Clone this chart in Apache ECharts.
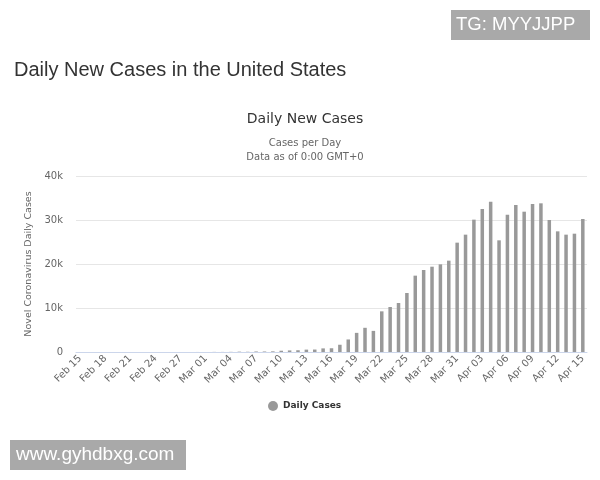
<!DOCTYPE html>
<html>
<head>
<meta charset="utf-8">
<script src="https://cdn.jsdelivr.net/npm/echarts@6/dist/echarts.min.js"></script>
<style>
html,body{margin:0;padding:0;background:#fff;}
#chart{width:600px;height:480px;}
</style>
</head>
<body>
<div id="chart"></div>
<script>
var categories = [
  "Feb 15","Feb 16","Feb 17","Feb 18","Feb 19","Feb 20","Feb 21","Feb 22","Feb 23","Feb 24","Feb 25","Feb 26","Feb 27","Feb 28","Feb 29",
  "Mar 01","Mar 02","Mar 03","Mar 04","Mar 05","Mar 06","Mar 07","Mar 08","Mar 09","Mar 10","Mar 11","Mar 12","Mar 13","Mar 14","Mar 15",
  "Mar 16","Mar 17","Mar 18","Mar 19","Mar 20","Mar 21","Mar 22","Mar 23","Mar 24","Mar 25","Mar 26","Mar 27","Mar 28","Mar 29","Mar 30","Mar 31",
  "Apr 01","Apr 02","Apr 03","Apr 04","Apr 05","Apr 06","Apr 07","Apr 08","Apr 09","Apr 10","Apr 11","Apr 12","Apr 13","Apr 14","Apr 15"
];
var dailyCases = [
  0,0,0,0,0,0,2,0,0,1,0,0,1,0,8,
  7,23,19,33,77,53,120,116,150,290,360,400,540,560,820,
  850,1650,2850,4350,5500,4800,9240,10230,11140,13410,17350,18640,19390,19920,20760,24850,
  26670,30080,32500,34170,25380,31210,33410,31890,33640,33790,30000,27420,26670,26890,30230
];
var yTicks = [0, 10000, 20000, 30000, 40000];
var seriesName = "Daily Cases";

var chart = echarts.init(document.getElementById('chart'), null, {renderer:'canvas'});
var font = "'DejaVu Sans', sans-serif";
chart.setOption({
  animation: false,
  backgroundColor: '#fff',
  title: [
    {text: 'Daily New Cases in the United States', left: 9, top: 55,
     textStyle: {fontFamily: "'Liberation Sans', Arial, sans-serif", fontSize: 20, fontWeight: 'normal', color: '#333'}}
  ],
  graphic: [
    {type: 'text', x: 305, y: 119, style: {text: 'Daily New Cases', fill: '#333', font: "14px 'DejaVu Sans', sans-serif", textAlign: 'center', textVerticalAlign: 'middle'}},
    {type: 'text', x: 305, y: 143, style: {text: 'Cases per Day', fill: '#666', font: "10px 'DejaVu Sans', sans-serif", textAlign: 'center', textVerticalAlign: 'middle'}},
    {type: 'text', x: 305, y: 157, style: {text: 'Data as of 0:00 GMT+0', fill: '#666', font: "10px 'DejaVu Sans', sans-serif", textAlign: 'center', textVerticalAlign: 'middle'}},
    {type: 'rect', shape: {x: 451, y: 10, width: 139, height: 30}, style: {fill: '#a9a9a9'}},
    {type: 'text', x: 456, y: 25, style: {text: 'TG: MYYJJPP', fill: '#fff', font: "18.5px 'Liberation Sans', Arial, sans-serif", textVerticalAlign: 'middle'}},
    {type: 'rect', shape: {x: 10, y: 440, width: 176, height: 30}, style: {fill: '#a9a9a9'}},
    {type: 'text', x: 16, y: 455, style: {text: 'www.gyhdbxg.com', fill: '#fff', font: "19px 'Liberation Sans', Arial, sans-serif", textVerticalAlign: 'middle'}}
  ],
  legend: {
    data: [seriesName], bottom: 64, left: 263, icon: 'circle', itemWidth: 10, itemHeight: 10, itemGap: 4,
    textStyle: {fontFamily: font, fontSize: 9, fontWeight: 'bold', color: '#333'}
  },
  grid: {left: 76, right: 13, top: 176, bottom: 128},
  xAxis: {
    type: 'category', data: categories,
    axisLine: {lineStyle: {color: '#ccd6eb'}},
    axisTick: {show: false},
    axisLabel: {interval: 2, rotate: 45, fontFamily: font, fontSize: 10, color: '#666', margin: 5}
  },
  yAxis: {
    type: 'value', min: yTicks[0], max: yTicks[yTicks.length-1], interval: yTicks[1]-yTicks[0],
    name: 'Novel Coronavirus Daily Cases', nameLocation: 'middle', nameGap: 31,
    nameTextStyle: {fontFamily: font, fontSize: 9.5, color: '#666'},
    axisLine: {show: false}, axisTick: {show: false},
    axisLabel: {fontFamily: font, fontSize: 10, color: '#666', margin: 13,
      formatter: function(v){ return v === 0 ? '0' : (v/1000) + 'k'; }},
    splitLine: {lineStyle: {color: '#e6e6e6'}}
  },
  series: [{
    name: seriesName, type: 'bar', data: dailyCases, barWidth: 3.5,
    itemStyle: {color: '#999999'}
  }]
});
</script>
</body>
</html>
